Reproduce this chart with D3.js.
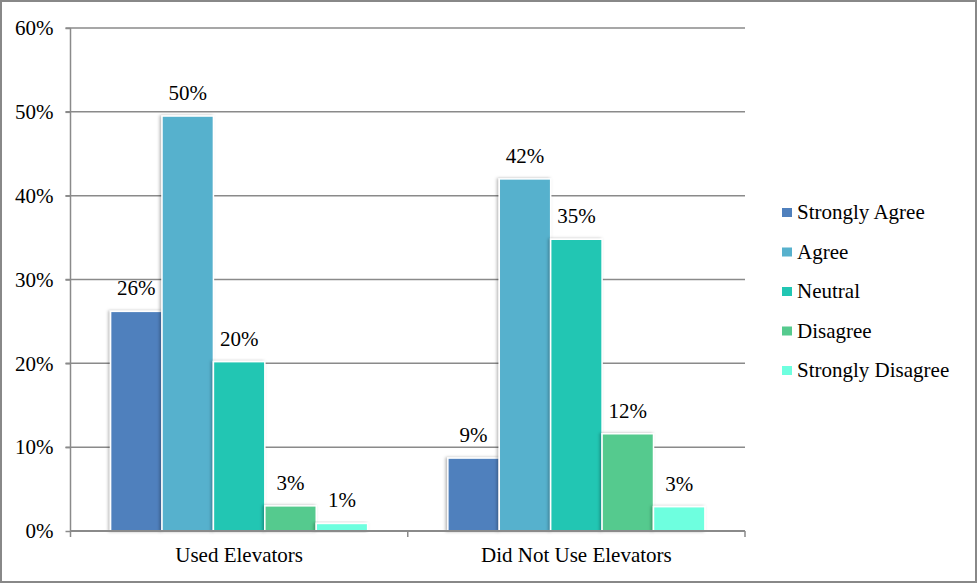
<!DOCTYPE html>
<html><head><meta charset="utf-8">
<script src="https://cdn.jsdelivr.net/npm/d3@7"></script>
<style>body{margin:0;background:#fff}svg{display:block}svg text{font-family:"Liberation Serif","Times New Roman",serif;}</style>
</head><body>
<script>
const groups = ["Used Elevators", "Did Not Use Elevators"];
const seriesNames = ["Strongly Agree", "Agree", "Neutral", "Disagree", "Strongly Disagree"];
const usedValues = [26.2, 49.5, 20.2, 3.0, 0.9];
const notUsedValues = [8.7, 42.0, 34.8, 11.6, 2.9];
const labelsUsed = ["26%", "50%", "20%", "3%", "1%"];
const labelsNotUsed = ["9%", "42%", "35%", "12%", "3%"];
const yTicks = [0, 10, 20, 30, 40, 50, 60];
const colors = ["#4f80bd", "#57b1cd", "#21c6b3", "#55ca8e", "#6effdf"];

(function(){
const W = 977, H = 583;
const FS = 21;
const svg = d3.select("body").append("svg").attr("width", W).attr("height", H);
const defs = svg.append("defs");
const f = defs.append("filter").attr("id","sh").attr("x","-20%").attr("y","-20%").attr("width","140%").attr("height","140%");
f.append("feDropShadow").attr("dx",-1.5).attr("dy",0).attr("stdDeviation",1.5).attr("flood-color","#000").attr("flood-opacity",0.3);

svg.append("rect").attr("x",1).attr("y",1).attr("width",W-2).attr("height",H-2)
  .attr("fill","#fff").attr("stroke","#888").attr("stroke-width",2);

const pLeft = 70.5, pRight = 745, pTop = 28, pBottom = 531;
const y = d3.scaleLinear().domain([0, 60]).range([pBottom, pTop]);
const x0 = d3.scaleBand().domain(groups).range([pLeft, pRight]).paddingInner(0).paddingOuter(0);
const x1 = d3.scaleBand().domain(seriesNames).range([0, x0.bandwidth()]).paddingOuter(0.78).paddingInner(0);

const font = "Liberation Serif";
const grid = "#8a8a8a";

svg.append("g").selectAll("line").data(yTicks.filter(d=>d>0)).join("line")
  .attr("x1", pLeft-5).attr("x2", pRight).attr("y1", d=>y(d)).attr("y2", d=>y(d))
  .attr("stroke", grid).attr("stroke-width", 1.5);

const yAxis = d3.axisLeft(y).tickValues(yTicks).tickFormat(d=>d+"%").tickSize(5).tickPadding(12);
const ya = svg.append("g").attr("transform",`translate(${pLeft},0)`).call(yAxis);
ya.attr("font-family", font).attr("font-size", FS);
ya.select(".domain").remove();
ya.selectAll(".tick line").attr("stroke", grid).attr("stroke-width",1.5);
ya.selectAll(".tick text").attr("font-family", font).attr("font-size", FS).attr("fill","#000");
svg.append("line").attr("x1",pLeft).attr("x2",pLeft).attr("y1",pTop).attr("y2",pBottom+6)
  .attr("stroke",grid).attr("stroke-width",1.5);

const data = [usedValues, notUsedValues];
const labels = [labelsUsed, labelsNotUsed];
groups.forEach((g, gi) => {
  const gg = svg.append("g").attr("transform",`translate(${x0(g)},0)`);
  const rows = seriesNames.map((s,i)=>({s, v:data[gi][i], l:labels[gi][i], c:colors[i]}));
  gg.selectAll("rect").data(rows).join("rect")
    .attr("x", d=>x1(d.s)).attr("width", x1.bandwidth())
    .attr("y", d=>y(d.v)).attr("height", d=>pBottom - y(d.v))
    .attr("fill", d=>d.c).attr("stroke","#fff").attr("stroke-width",1.5)
    .attr("filter","url(#sh)");
  gg.selectAll("text").data(rows).join("text")
    .attr("x", d=>x1(d.s)+x1.bandwidth()/2).attr("y", d=>y(d.v)-16)
    .attr("text-anchor","middle").attr("font-family",font).attr("font-size",FS)
    .text(d=>d.l);
});

svg.append("line").attr("x1",pLeft).attr("x2",pRight).attr("y1",pBottom).attr("y2",pBottom)
  .attr("stroke",grid).attr("stroke-width",2);
const xAxis = d3.axisBottom(x0).tickSize(0).tickPadding(0);
const xa = svg.append("g").attr("transform",`translate(0,${pBottom})`).call(xAxis);
xa.attr("font-family", font).attr("font-size", FS);
xa.select(".domain").remove();
xa.selectAll(".tick text").attr("font-family",font).attr("font-size",FS).attr("fill","#000").attr("dy",null).attr("y",31);
[x0(groups[1]), pRight].forEach(px=>{
  svg.append("line").attr("x1",px).attr("x2",px).attr("y1",pBottom).attr("y2",pBottom+6)
    .attr("stroke",grid).attr("stroke-width",1.5);
});

const lg = svg.append("g").attr("transform","translate(782,213)");
seriesNames.forEach((s,i)=>{
  const r = lg.append("g").attr("transform",`translate(0,${i*39.5})`);
  r.append("rect").attr("x",0).attr("y",-5).attr("width",10).attr("height",9).attr("fill",colors[i]);
  r.append("text").attr("x",15).attr("y",6).attr("font-family",font).attr("font-size",FS).text(s);
});
})();
</script>
</body></html>
